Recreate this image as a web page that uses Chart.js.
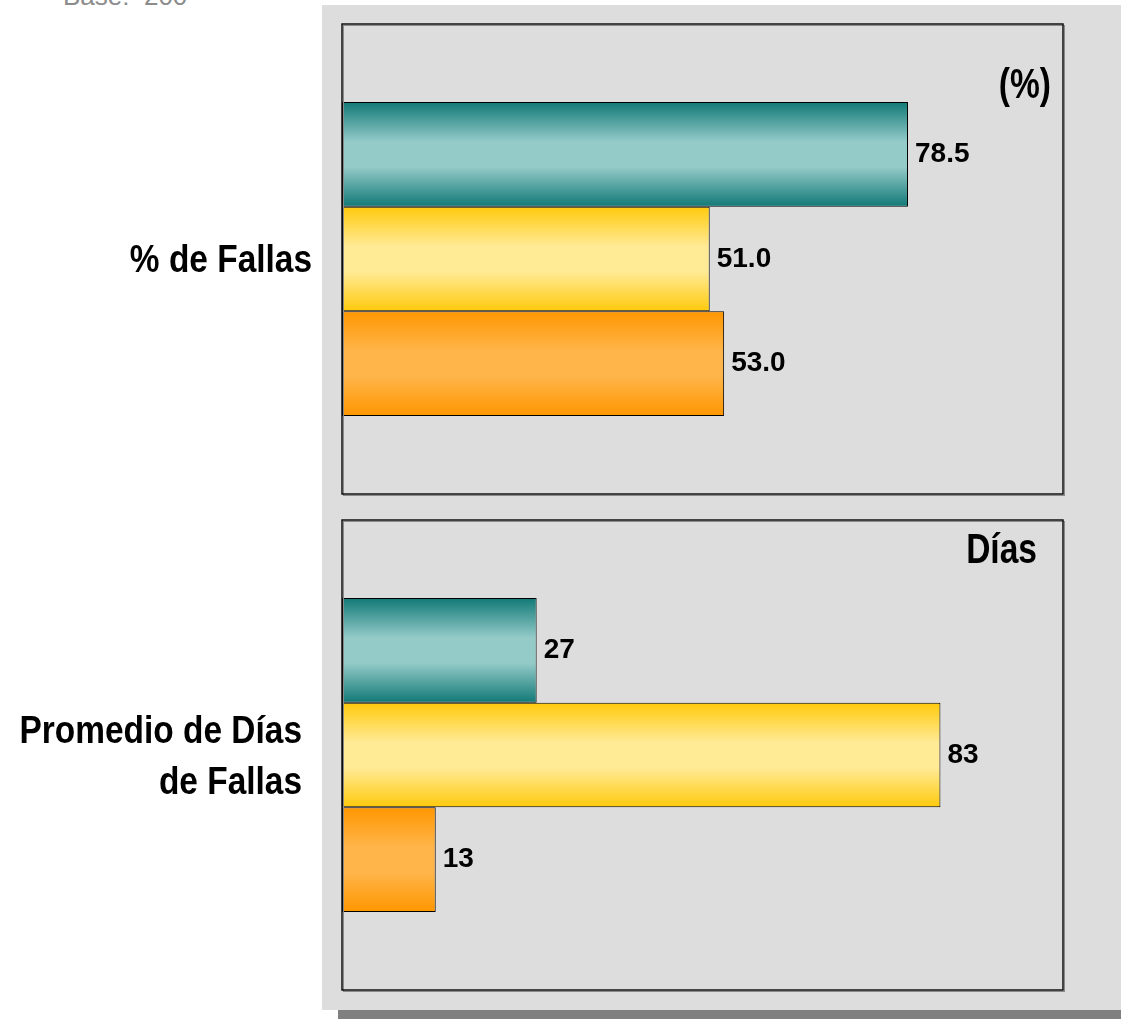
<!DOCTYPE html>
<html lang="es">
<head>
<meta charset="utf-8">
<title>Fallas</title>
<script src="https://cdn.jsdelivr.net/npm/chart.js@4.4.1/dist/chart.umd.min.js"></script>
<style>
    html, body { margin: 0; padding: 0; background: #fff; width: 1121px; height: 1019px; overflow: hidden; position: relative; font-family: 'Liberation Sans', Arial, sans-serif; }
    #base { position: absolute; left: 63px; top: -17px; font-size: 26px; line-height: 26px; color: #8c8c8c; white-space: pre; }
    #fondo { position: absolute; left: 322px; top: 5px; right: 0; height: 1005px; background: #dddddd; }
    #sombra { position: absolute; left: 338px; top: 1010px; right: 0; height: 9px; background: #808080; }
    .caja { position: absolute; left: 0; width: 1121px; }
    #caja-fallas { top: 0; height: 507px; }
    #caja-dias { top: 507px; height: 512px; }
</style>
</head>
<body>
<div id="base">Base:  200</div>
<div id="fondo"></div>
<div id="sombra"></div>
<div class="caja" id="caja-fallas"><canvas id="chart-fallas"></canvas></div>
<div class="caja" id="caja-dias"><canvas id="chart-dias"></canvas></div>

<script>
'use strict';

// Datos
const categorias = ['% de Fallas', ['Promedio de Días', 'de Fallas']];
const unidades = ['(%)', 'Días'];
const decimales = [1, 0];
const serieNombres = ['Serie 1', 'Serie 2', 'Serie 3'];
const serie1 = [78.5, 27];
const serie2 = [51.0, 83];
const serie3 = [53.0, 13];
const ejeMax = 100;

// no narrow font installed, so the condensed look is faked with a horizontal scale
const SANS = "'Liberation Sans', Arial, sans-serif";

// borde, centro
const degradados = [
    ['#117976', '#94cbc9'],
    ['#ffca0c', '#ffea96'],
    ['#ff9600', '#ffb54a']
];

// Per-panel layout
const paneles = [
    { canvas: 'chart-fallas', padding: { top: 24, right: 58, bottom: 13, left: 0 }, tickPad: 30, unidadY: 74, unidadX: 12 },
    { canvas: 'chart-dias', padding: { top: 13, right: 58, bottom: 29, left: 0 }, tickPad: 40, unidadY: 43, unidadX: 26 }
];

const degradadoPlugin = {
    id: 'degradado',
    beforeDatasetsDraw(chart) {
        const ctx = chart.ctx;
        chart.data.datasets.forEach((ds, i) => {
            const meta = chart.getDatasetMeta(i);
            const c = degradados[i];
            meta.data.forEach(el => {
                const top = el.y - el.height / 2;
                const bot = el.y + el.height / 2;
                if (!isFinite(top) || !isFinite(bot)) return;
                const g = ctx.createLinearGradient(0, top, 0, bot);
                g.addColorStop(0, c[0]);
                g.addColorStop(0.38, c[1]);
                g.addColorStop(0.62, c[1]);
                g.addColorStop(1, c[0]);
                el.options.backgroundColor = g;
            });
        });
    }
};

const marcoPlugin = {
    id: 'marco',
    afterDraw(chart) {
        const a = chart.chartArea;
        const ctx = chart.ctx;
        ctx.save();
        ctx.strokeStyle = '#8a8a8a';
        ctx.lineWidth = 1;
        ctx.strokeRect(a.left + 1.5, a.top + 1.5, a.right - a.left, a.bottom - a.top);
        ctx.strokeStyle = '#111';
        ctx.lineWidth = 1.5;
        ctx.strokeRect(a.left, a.top, a.right - a.left, a.bottom - a.top);
        ctx.restore();
    }
};

function textoAngosto(ctx, txt, x, y, sx) {
    ctx.save();
    ctx.translate(x, y);
    ctx.scale(sx, 1);
    ctx.fillText(txt, 0, 0);
    ctx.restore();
}

const etiquetasPlugin = {
    id: 'etiquetas',
    afterDatasetsDraw(chart, args, opts) {
        const ctx = chart.ctx;
        const a = chart.chartArea;
        ctx.save();
        ctx.fillStyle = '#000';
        ctx.font = 'bold 28px ' + SANS;
        ctx.textAlign = 'left';
        ctx.textBaseline = 'middle';
        chart.data.datasets.forEach((ds, i) => {
            const meta = chart.getDatasetMeta(i);
            meta.data.forEach((el, j) => {
                ctx.fillText(ds.data[j].toFixed(opts.decimales), el.x + 7, el.y);
            });
        });

        // category label, right aligned left of the panel
        const yScale = chart.scales.y;
        ctx.font = 'bold 38px ' + SANS;
        ctx.textAlign = 'right';
        ctx.textBaseline = 'alphabetic';
        chart.data.labels.forEach((lab, j) => {
            const lineas = Array.isArray(lab) ? lab : [lab];
            const cy = yScale.getPixelForValue(j);
            lineas.forEach((ln, n) => {
                const y = cy + 13 + (n - (lineas.length - 1) / 2) * 51;
                textoAngosto(ctx, ln, a.left - opts.tickPad, y, 0.88);
            });
        });

        // unidad
        ctx.font = 'bold 43px ' + SANS;
        textoAngosto(ctx, opts.unidad, a.right - opts.unidadX, a.top + opts.unidadY, 0.78);
        ctx.restore();
    }
};

function crearPanel(k) {
    const p = paneles[k];
    const ctx = document.getElementById(p.canvas);
    if (typeof Chart === 'undefined') return;

    const series = [serie1, serie2, serie3];

    return new Chart(ctx, {
        type: 'bar',
        data: {
            labels: [categorias[k]],
            datasets: series.map((s, i) => ({
                label: serieNombres[i],
                data: [s[k]],
                backgroundColor: () => degradados[i][1],
                borderColor: '#000',
                borderWidth: 1,
                borderSkipped: false
            }))
        },
        options: {
            indexAxis: 'y',
            responsive: true,
            maintainAspectRatio: false,
            animation: false,
            layout: { padding: p.padding },
            categoryPercentage: 0.668,
            barPercentage: 1,
            plugins: {
                legend: { display: false },
                tooltip: { enabled: false },
                etiquetas: { decimales: decimales[k], unidad: unidades[k], unidadX: p.unidadX, unidadY: p.unidadY, tickPad: p.tickPad }
            },
            scales: {
                x: { display: false, min: 0, max: ejeMax },
                y: {
                    grid: { display: false, drawTicks: false },
                    border: { display: false },
                    ticks: { display: false },
                    afterFit(scale) {
                        scale.width = 342;
                        scale.paddingTop = 0;
                        scale.paddingBottom = 0;
                    }
                }
            }
        },
        plugins: [degradadoPlugin, marcoPlugin, etiquetasPlugin]
    });
}

crearPanel(0);
crearPanel(1);
</script>
</body>
</html>
